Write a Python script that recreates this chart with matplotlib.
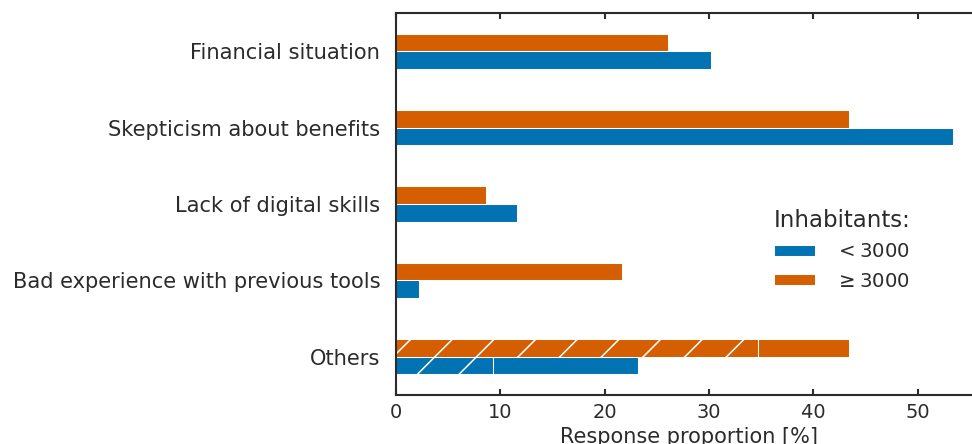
import numpy as np
import matplotlib.pyplot as plt

# survey answers: reasons for not using digital tools, split by municipality size
categories = ['Financial situation', 'Skepticism about benefits', 'Lack of digital skills',
              'Bad experience with previous tools', 'Others']
small_towns = [30.2, 53.4, 11.6, 2.2, 23.2]   # < 3000 inhabitants
large_towns = [26.1, 43.4, 8.6, 21.7, 43.4]   # >= 3000 inhabitants
# share of "Others" that came from the free text field (drawn hatched)
others_hatched = {'small': 9.3, 'large': 34.7}

blue = '#0173b2'
orange = '#d55e00'
text_color = '#2b2b2b'

plt.rcParams['font.family'] = 'DejaVu Sans'
plt.rcParams['text.color'] = text_color
plt.rcParams['axes.labelcolor'] = text_color
plt.rcParams['xtick.color'] = text_color
plt.rcParams['ytick.color'] = text_color
plt.rcParams['hatch.color'] = 'white'
plt.rcParams['hatch.linewidth'] = 0.45

dpi = 250
fig = plt.figure(figsize=(972 / dpi, 444 / dpi), dpi=dpi)
ax = fig.add_axes([396 / 972, 49 / 444, 585 / 972, 382 / 444])

y = np.arange(len(categories))
h = 0.23
edge = dict(edgecolor='white', linewidth=0.3)

n = len(categories) - 1
ax.barh(y[:n] + h / 2, small_towns[:n], height=h, color=blue, label='$<3000$', **edge)
ax.barh(y[:n] - h / 2, large_towns[:n], height=h, color=orange, label=r'$\geq3000$', **edge)

# "Others": hatched part + remaining part
ax.barh(y[n] + h / 2, others_hatched['small'], height=h, color=blue, hatch='//', **edge)
ax.barh(y[n] + h / 2, small_towns[n] - others_hatched['small'], left=others_hatched['small'],
        height=h, color=blue, **edge)
ax.barh(y[n] - h / 2, others_hatched['large'], height=h, color=orange, hatch='//', **edge)
ax.barh(y[n] - h / 2, large_towns[n] - others_hatched['large'], left=others_hatched['large'],
        height=h, color=orange, **edge)

ax.set_yticks(y)
ax.set_yticklabels(categories, fontsize=6.05)
ax.set_ylim(len(categories) - 0.5, -0.5)
ax.set_xlabel('Response proportion [%]', fontsize=6, labelpad=1.5)

ax.tick_params(axis='x', direction='in', top=True, length=1.8, width=0.6, labelsize=5.6, pad=2.2)
ax.tick_params(axis='y', length=0, pad=4.5)
for side in ['left', 'top', 'bottom', 'right']:
    ax.spines[side].set_linewidth(0.6)
    ax.spines[side].set_color(text_color)

leg = ax.legend(title='Inhabitants:', loc='center left', bbox_to_anchor=(0.616, 0.38),
                frameon=False, fontsize=5.7, title_fontsize=6.6,
                handlelength=2.05, handleheight=0.5, handletextpad=1.0, labelspacing=0.53)
leg._legend_box.align = 'left'

fig.savefig('out.png', dpi=dpi)
